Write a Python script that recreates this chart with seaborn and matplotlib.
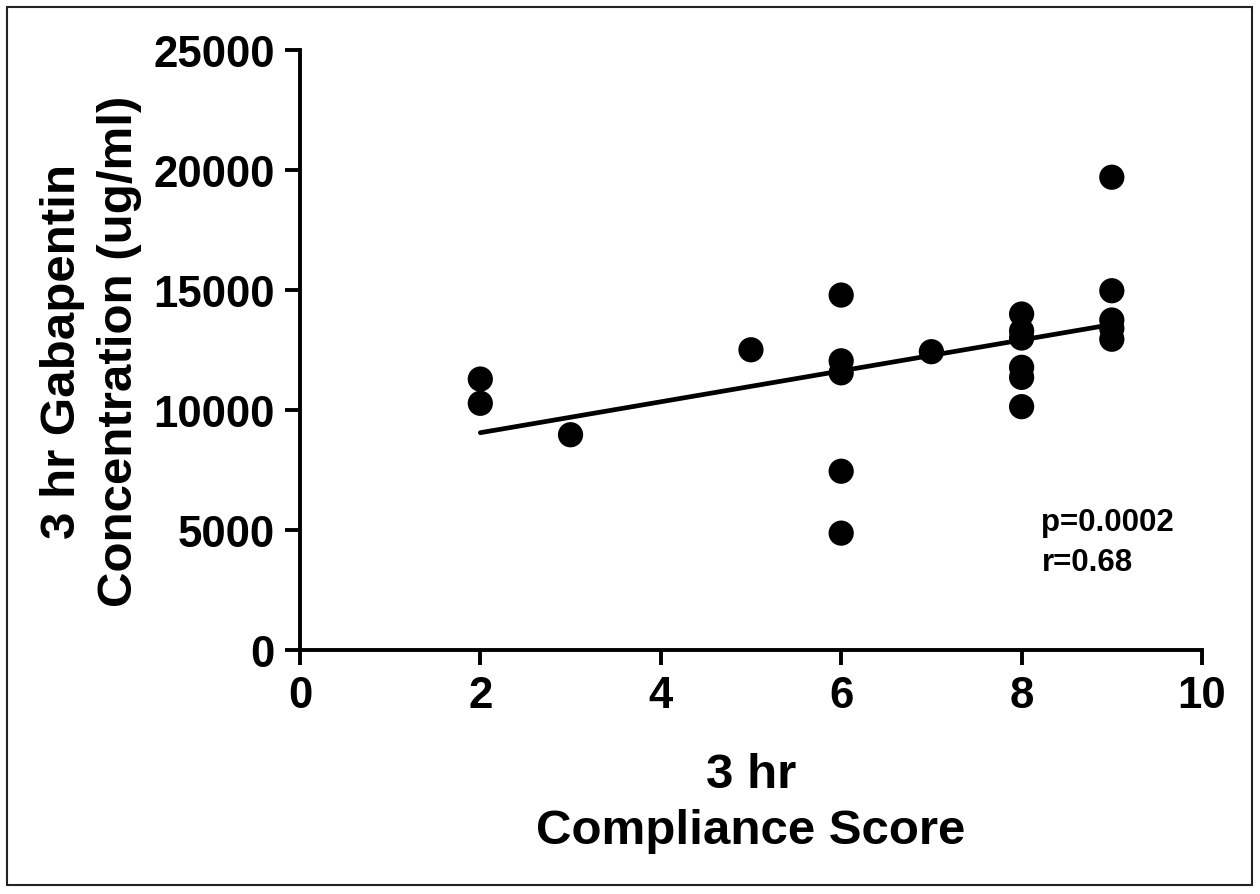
import numpy as np
import pandas as pd
import matplotlib
matplotlib.use("Agg")
import matplotlib.pyplot as plt
import seaborn as sns
from matplotlib.patches import Rectangle

# compliance score vs 3 hr gabapentin concentration
score = [2, 2, 3, 5, 6, 6, 6, 6, 6, 7, 8, 8, 8, 8, 8, 8, 9, 9, 9, 9, 9]
conc = [11290, 10280, 8970, 12510, 14790, 12050, 11550, 7450, 4870, 12430,
        14000, 13300, 13000, 11780, 11360, 10140, 19700, 14970, 13750, 13400, 12950]
stats_txt = "p=0.0002\nr=0.68"
x_ticks = [0, 2, 4, 6, 8, 10]
y_ticks = [0, 5000, 10000, 15000, 20000, 25000]

df = pd.DataFrame({"score": score, "conc": conc})

sns.set_style("white")
plt.rcParams["font.family"] = ["Liberation Sans", "DejaVu Sans"]
plt.rcParams["font.weight"] = "bold"
plt.rcParams["text.color"] = "black"
plt.rcParams["axes.labelcolor"] = "black"
plt.rcParams["xtick.color"] = "black"
plt.rcParams["ytick.color"] = "black"

fig = plt.figure(figsize=(12.6, 8.95), dpi=100)
ax = fig.add_axes([0.238, 0.2726, 0.716, 0.6704])

sns.regplot(data=df, x="score", y="conc", ci=None, truncate=True, ax=ax,
            scatter_kws=dict(s=330, color="black", edgecolor="none", alpha=1),
            line_kws=dict(color="black", lw=3.4))

ax.set_xlim(0, 10)
ax.set_ylim(0, 25000)
ax.set_xticks(x_ticks)
ax.set_yticks(y_ticks)
ax.tick_params(axis="both", direction="out", length=11, width=2.8, labelsize=31.5,
               left=True, bottom=True, pad=7)
for lab in ax.get_xticklabels() + ax.get_yticklabels():
    lab.set_fontweight("bold")
sns.despine(ax=ax)
for s in ["left", "bottom"]:
    ax.spines[s].set_linewidth(2.8)
    ax.spines[s].set_color("black")

ax.set_xlabel("3 hr\nCompliance Score", fontsize=35.5, fontweight="bold", labelpad=26,
              linespacing=1.3)
ax.set_ylabel("3 hr Gabapentin\nConcentration (ug/ml)", fontsize=35.5, fontweight="bold",
              labelpad=8, linespacing=1.35)

ax.text(8.22, 4500, stats_txt, fontsize=22.5, fontweight="bold", va="center", ha="left",
        linespacing=1.4)

fig.patches.append(Rectangle((0.0056, 0.01), 0.988, 0.981, transform=fig.transFigure,
                             fill=False, edgecolor="#222222", lw=1.5))

fig.savefig("out.png", dpi=100)
